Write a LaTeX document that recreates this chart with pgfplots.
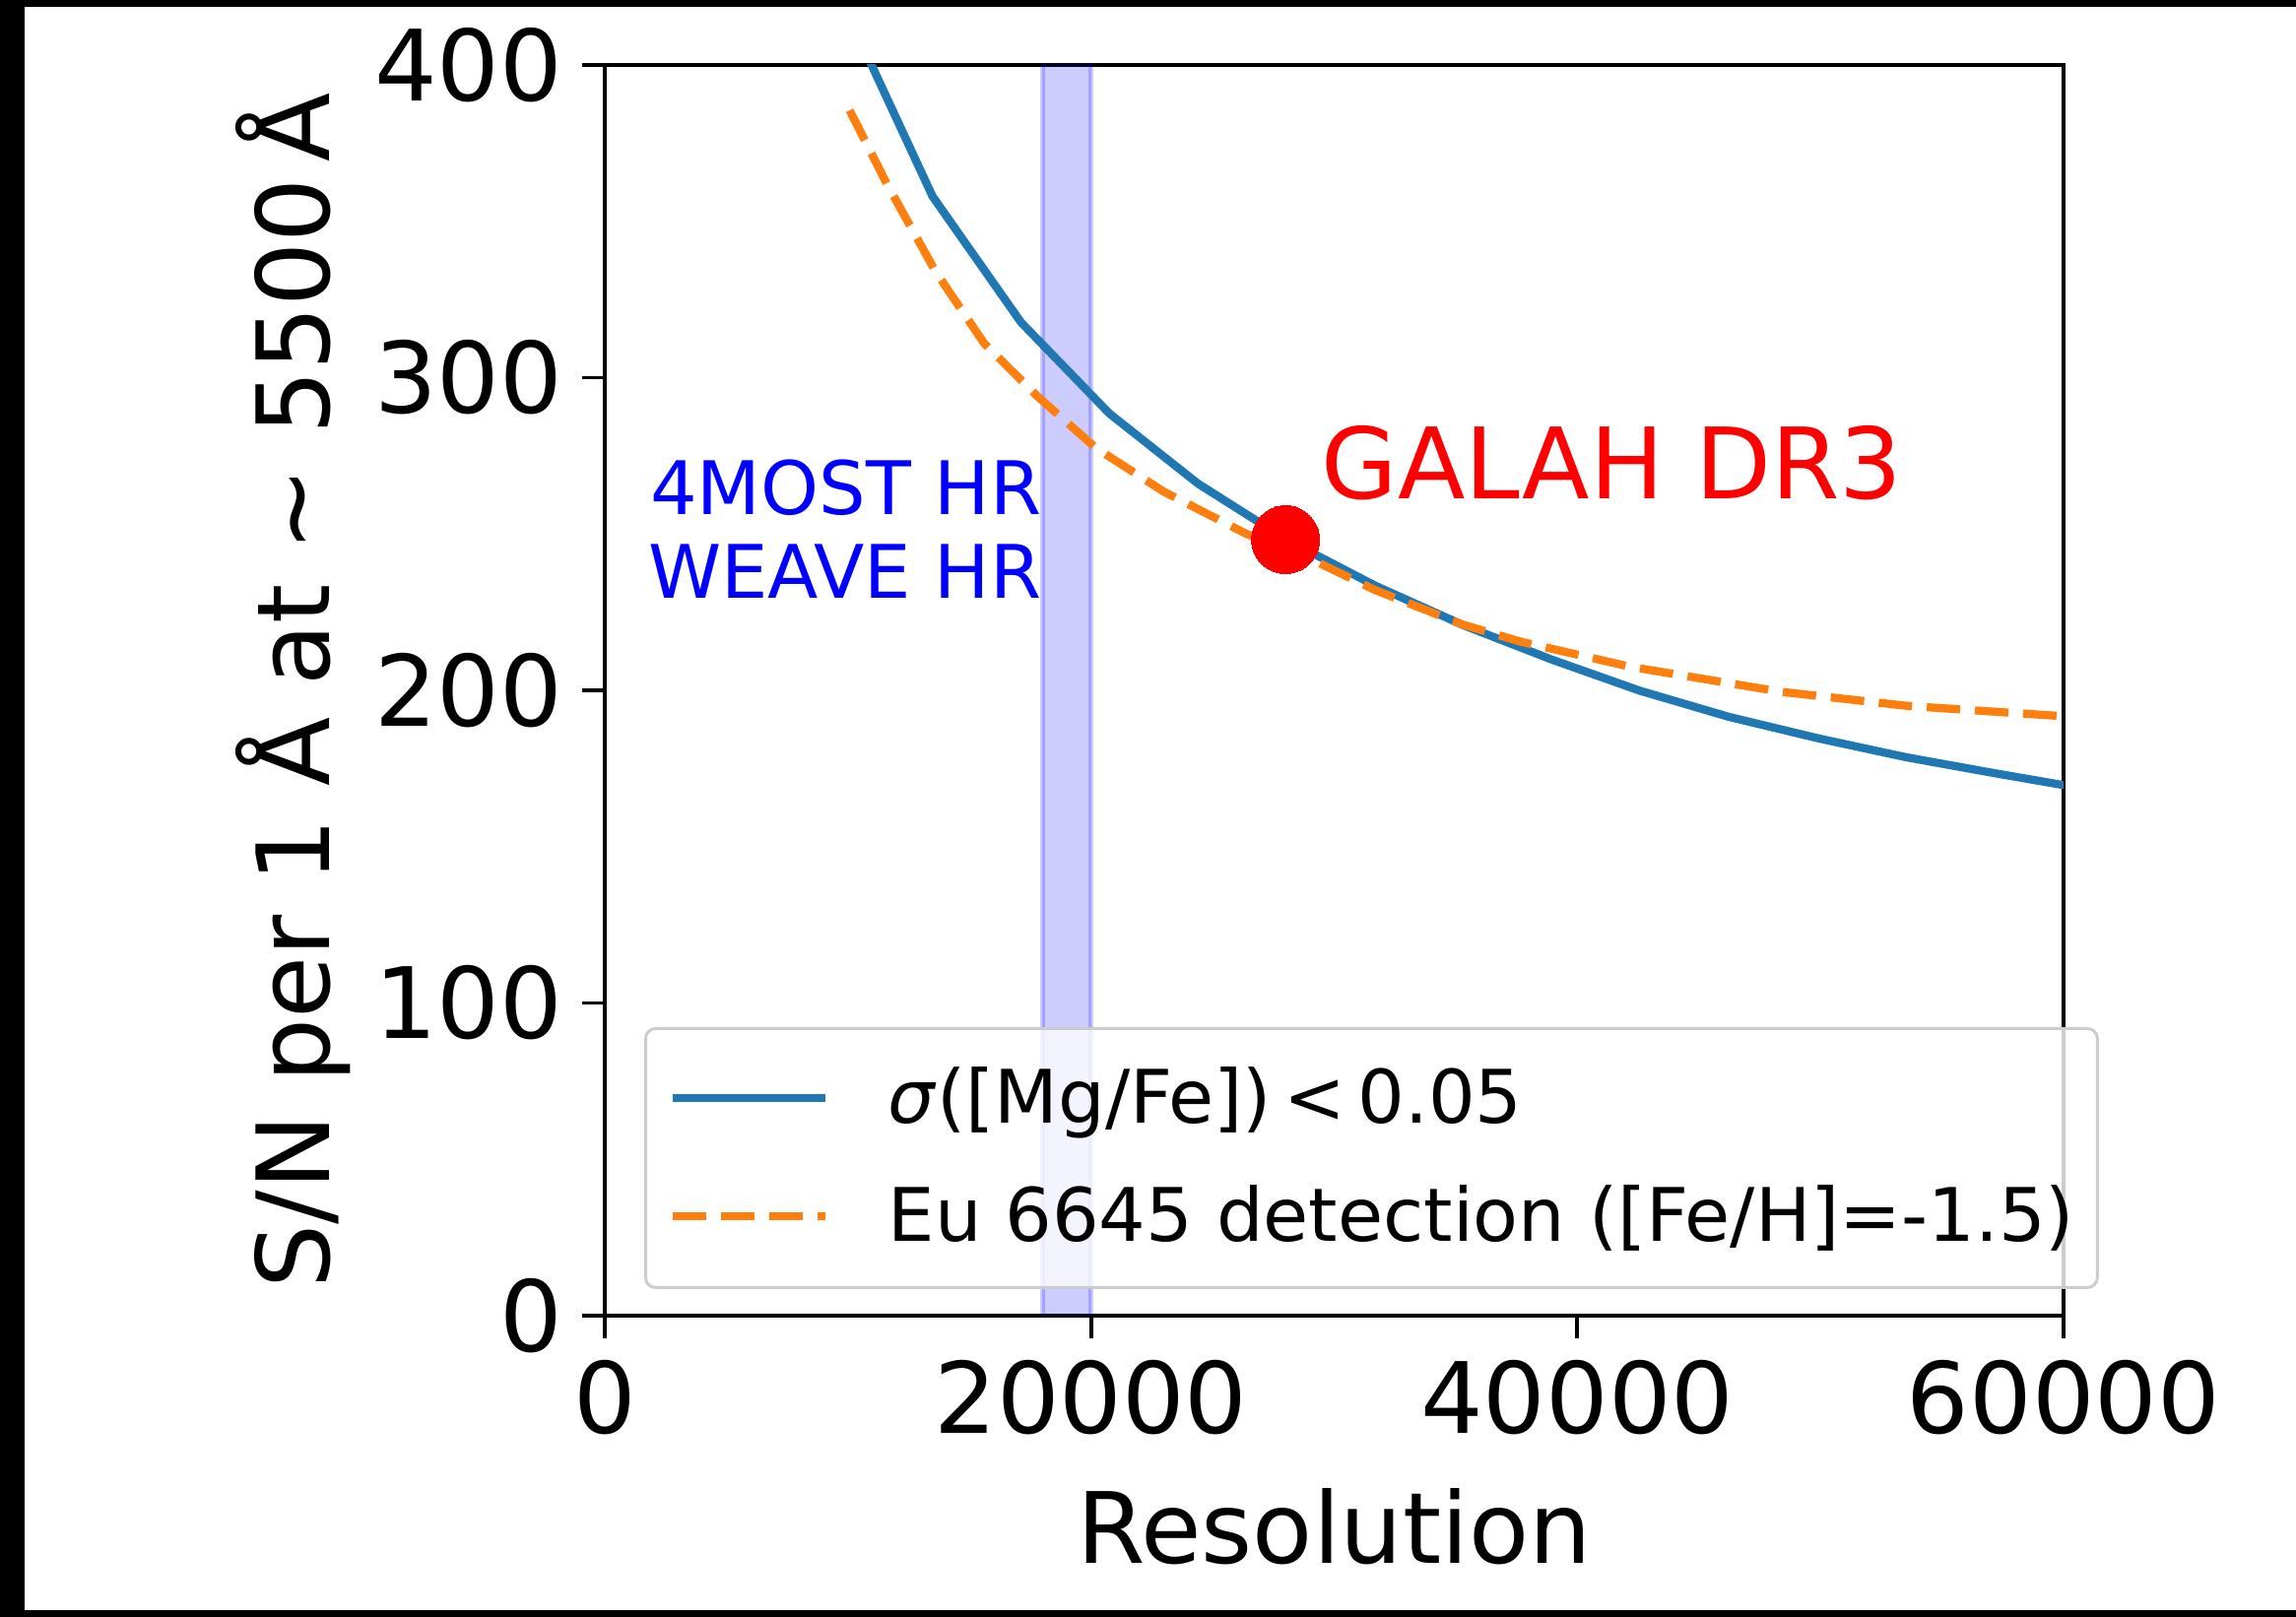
\documentclass[border=0pt]{standalone}
\usepackage{fontspec}
\setmainfont{DejaVu Sans}
\usepackage{pgfplots}
\pgfplotsset{compat=1.18}
\definecolor{mplblue}{RGB}{31,119,180}
\definecolor{mplorange}{RGB}{255,127,14}
\begin{document}
\begin{tikzpicture}
\useasboundingbox (-122.8pt,-61.2pt) rectangle (343.4pt,267.2pt);
\fill[black] (-122.8pt,-61.2pt) rectangle (343.4pt,267.2pt);
\fill[white] (-117.8pt,-59.8pt) rectangle (343.4pt,265.8pt);
\begin{axis}[
  at={(0pt,0pt)}, anchor=south west,
  scale only axis, width=296.2pt, height=254pt,
  xmin=0, xmax=60000, ymin=0, ymax=400,
  scaled x ticks=false, scaled y ticks=false,
  xtick={0,20000,40000,60000}, xticklabels={0,20000,40000,60000},
  ytick={0,100,200,300,400}, yticklabels={0,100,200,300,400},
  tick pos=left, tick align=outside, major tick length=4.6pt,
  every tick/.style={black, line width=0.75pt},
  axis line style={line width=0.75pt},
  tick label style={font=\fontsize{20pt}{24pt}\selectfont, inner sep=0pt},
  xticklabel style={anchor=north, yshift=-4.2pt},
  yticklabel style={anchor=east, xshift=-3.8pt},
  xlabel={Resolution},
  ylabel={S/N per 1 Å at ∼ 5500\,Å},
  every axis x label/.style={at={(axis description cs:0.5,-0.1984)}, anchor=base,
    font=\fontsize{20pt}{24pt}\selectfont, inner sep=0pt},
  every axis y label/.style={at={(axis description cs:-0.1884,0.5)}, anchor=base, rotate=90,
    font=\fontsize{20.5pt}{24pt}\selectfont, inner sep=0pt},
  legend style={at={(0.0270,0.2307)}, anchor=north west, draw=black!20, line width=0.6pt,
    rounded corners=2pt, fill=white, fill opacity=0.8, text opacity=1, draw opacity=1,
    inner xsep=4.6pt, inner ysep=7.8pt, row sep=11.2pt, column sep=12pt,
    font=\fontsize{15pt}{18pt}\selectfont, nodes={inner sep=0pt}, cells={anchor=west}},
  legend image code/.code={\draw[#1] (0pt,0.2pt) -- (31pt,0.2pt);},
]
\addplot[fill=blue, fill opacity=0.2, draw=blue, draw opacity=0.2, line width=1pt, forget plot]
  coordinates {(18000,-50) (20000,-50) (20000,450) (18000,450)} -- cycle;
\addplot[mplblue, line width=1.65pt, line join=round] coordinates {
  (9840,419) (13480,358) (17120,317.7) (20760,288.5) (24400,266.1) (28040,248.2)
  (31680,233.5) (35320,220.8) (38960,209.8) (42600,199.8) (46240,191.5) (49880,184.7)
  (53520,178.6) (57160,173.5) (60800,168.6)};
\addlegendentry{\vphantom{g(}\textit{σ}([Mg/Fe])\,<\,0.05}
\addplot[mplorange, line width=1.65pt, dash pattern=on 6.8pt off 3pt] coordinates {
  (10070,385.5) (11600,362) (13600,334) (15600,311) (17800,294) (20200,277.5)
  (23000,263.5) (26400,250) (29300,241) (31700,232) (35300,221) (37700,215.5)
  (42200,207.5) (48400,199.5) (53600,195) (60000,191.7)};
\addlegendentry{\vphantom{g(}Eu 6645 detection ([Fe/H]=-1.5)\hspace{4.3pt}}
\addplot[only marks, mark=*, mark size=6.9pt, color=red, mark options={fill=red, draw=red, line width=0pt}, forget plot]
  coordinates {(28000,248.2)};
\node[anchor=base west, text=red, font=\fontsize{20pt}{24pt}\selectfont, inner sep=0pt] at (axis cs:29450,261.2) {GALAH DR3};
\node[anchor=base east, text=blue, font=\fontsize{15pt}{18pt}\selectfont, inner sep=0pt] at (axis cs:18000,256.3) {4MOST HR};
\node[anchor=base east, text=blue, font=\fontsize{15pt}{18pt}\selectfont, inner sep=0pt] at (axis cs:18000,229.6) {WEAVE HR};
\end{axis}
\end{tikzpicture}
\end{document}
